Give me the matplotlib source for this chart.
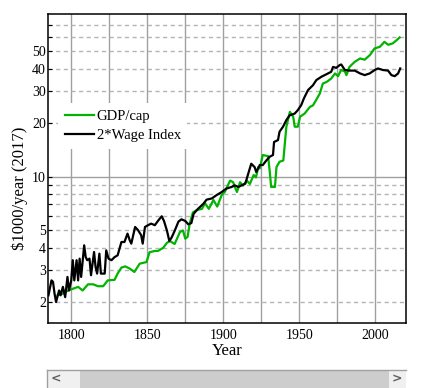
import matplotlib
matplotlib.use("Agg")
import matplotlib.pyplot as plt
from matplotlib.patches import Rectangle
from matplotlib.lines import Line2D
from matplotlib.ticker import FixedLocator, FixedFormatter, NullFormatter

W, H = 426, 388

# GDP per capita, $1000/year (2017)
gdp_years = [1791, 1794.5, 1798, 1801, 1804.5, 1807.5, 1811, 1814.5, 1817.5, 1821,
             1824, 1828.5, 1830.5, 1833, 1835.5, 1838.5, 1841.5, 1845, 1849.5, 1851.5,
             1855, 1857, 1860.5, 1863, 1865, 1868, 1871.5, 1873.5, 1875, 1876.5, 1878,
             1880, 1882.5, 1886, 1888, 1890.5, 1893.5, 1896, 1899, 1901, 1904.5, 1906.5,
             1907.5, 1909, 1911, 1913, 1915.5, 1917.5, 1920, 1921.5, 1923, 1924, 1926,
             1929.5, 1930.5, 1931.5, 1934, 1935, 1937, 1939.5, 1940.5, 1941.5, 1943.8,
             1946, 1947, 1949, 1950.5, 1953.5, 1957, 1959, 1961, 1963.5, 1965.5, 1968,
             1971, 1973.5, 1975.5, 1977.5, 1980, 1981, 1983, 1986.5, 1990, 1993, 1996.5,
             1999.5, 2003, 2006, 2008.5, 2011.5, 2014, 2016]
gdp_vals = [2.17, 2.22, 2.31, 2.36, 2.42, 2.31, 2.50, 2.50, 2.44, 2.44,
            2.63, 2.65, 2.87, 3.10, 3.15, 3.06, 2.93, 3.26, 3.33, 3.78,
            3.84, 3.84, 4.0, 4.27, 4.36, 4.2, 4.9, 5.0, 4.5, 4.6, 5.5,
            6.3, 6.5, 6.6, 7.1, 6.6, 7.4, 6.8, 7.9, 8.2, 9.5, 9.3,
            8.8, 8.2, 9.3, 8.9, 9.5, 9.1, 10.2, 9.9, 11.3, 11.1, 13.2,
            13.0, 10.8, 8.75, 8.75, 11.3, 12.1, 12.3, 15.3, 19.0, 23.0,
            21.6, 19.0, 19.0, 21.6, 22.5, 24.5, 25.0, 26.7, 29.1, 33.1, 33.8,
            35.3, 37.7, 36.4, 39.4, 38.7, 36.9, 41.0, 43.8, 45.7, 45.0, 47.8,
            52.0, 53.1, 56.6, 54.5, 55.5, 57.8, 59.9]

# 2 x wage index, $1000/year (2017)
wage_years = [1785, 1787, 1788, 1789, 1790, 1792, 1793, 1794.5, 1796, 1797.5,
              1798.5, 1800, 1801, 1802, 1803.5, 1804.5, 1805.5, 1806.5, 1808.5, 1809.5,
              1810.5, 1812, 1813, 1815, 1816, 1817, 1818.5, 1819.5, 1822, 1823,
              1824.5, 1826.5, 1828.5, 1830.5, 1833, 1835, 1837, 1838.5, 1839.5, 1842,
              1844, 1846, 1847, 1848.5, 1850.5, 1852.5, 1855, 1857, 1859.5, 1861,
              1863, 1864.5, 1866, 1868, 1870.5, 1872.5, 1875, 1877, 1879, 1880.5,
              1883.5, 1887, 1889, 1892.5, 1895.5, 1899, 1902, 1905.5, 1907.5, 1910,
              1912, 1914.5, 1916.3, 1918.4, 1920.6, 1921.7, 1924, 1926, 1928.3, 1930.5,
              1932.7, 1933.4, 1936, 1937, 1939.3, 1941.5, 1943.7, 1947, 1949, 1951.3,
              1953, 1955.7, 1959, 1961.2, 1964.5, 1967.8, 1971, 1972.2, 1974.3, 1976.6,
              1977.6, 1980, 1983, 1986.5, 1990, 1993, 1996.3, 1999.6, 2001.8, 2005,
              2008.4, 2010.6, 2012.8, 2015, 2016.4]
wage_vals = [2.17, 2.63, 2.58, 2.22, 1.99, 2.31, 2.17, 2.42, 2.12, 2.75,
             2.31, 2.63, 3.41, 2.63, 3.41, 2.63, 3.48, 2.75, 4.13, 3.55,
             3.41, 3.48, 2.81, 3.79, 3.12, 2.87, 3.71, 2.87, 2.87, 3.87,
             3.48, 3.41, 3.55, 3.63, 4.31, 4.31, 4.80, 4.40, 4.22, 5.23,
             5.01, 4.70, 4.22, 5.23, 5.35, 5.46, 5.35, 5.65, 6.0, 5.65,
             4.97, 4.37, 4.56, 4.97, 5.6, 5.77, 5.65, 5.41, 5.5, 6.2,
             6.62, 7.06, 7.43, 7.55, 7.87, 8.2, 8.57, 8.75, 8.93, 8.75,
             8.93, 9.13, 10.3, 11.8, 11.3, 10.6, 11.6, 11.6, 12.3, 12.9,
             13.2, 15.6, 16.0, 17.8, 19.0, 20.7, 22.0, 22.5, 23.5, 25.1,
             27.3, 30.4, 32.4, 34.6, 36.1, 37.3, 38.5, 41.0, 40.5, 42.0,
             42.3, 39.4, 39.1, 39.1, 37.7, 36.9, 37.7, 39.4, 40.2, 39.4,
             39.1, 36.9, 36.4, 37.7, 40.2]

series_labels = ["GDP/cap", "2*Wage Index"]
y_major = [10]
y_minor = [2, 3, 4, 5, 6, 7, 8, 9, 20, 30, 40, 50, 60, 70]
y_minor_labels = ["2", "3", "4", "5", "", "", "", "", "20", "30", "40", "50", "", ""]
x_major = [1800, 1850, 1900, 1950, 2000]
x_minor = [1825, 1875, 1925, 1975]

GREEN = "#00b400"


def fx(px):
    return px / W


def fy(py):
    return 1 - py / H


def main():
    plt.rcParams["font.family"] = ["Liberation Serif", "DejaVu Serif"]
    fig = plt.figure(figsize=(W / 100, H / 100), dpi=100)
    ax = fig.add_axes([fx(48), fy(323), (406 - 48) / W, (323 - 14) / H])

    ax.set_yscale("log")
    ax.set_xlim(1784.7, 2020.2)
    ax.set_ylim(1.52, 81)

    ax.plot(gdp_years, gdp_vals, color=GREEN, linewidth=1.6, label=series_labels[0], zorder=3)
    ax.plot(wage_years, wage_vals, color="black", linewidth=1.6, label=series_labels[1], zorder=3)

    ax.yaxis.set_major_locator(FixedLocator(y_major))
    ax.yaxis.set_major_formatter(FixedFormatter(["10"]))
    ax.yaxis.set_minor_locator(FixedLocator(y_minor))
    ax.yaxis.set_minor_formatter(FixedFormatter(y_minor_labels))
    ax.xaxis.set_major_locator(FixedLocator(x_major))
    ax.xaxis.set_minor_locator(FixedLocator(x_minor))
    ax.xaxis.set_minor_formatter(NullFormatter())

    ax.grid(True, axis="x", which="both", color="#a0a0a0", linewidth=1.0)
    ax.grid(True, axis="y", which="major", color="#a0a0a0", linewidth=1.0)
    ax.grid(True, axis="y", which="minor", color="#b4b4b4", linewidth=1.0, linestyle=(0, (3, 2.5)))
    ax.set_axisbelow(True)

    ax.tick_params(axis="x", which="both", length=0, pad=4, labelsize=10)
    ax.tick_params(axis="y", which="both", direction="in", length=3, width=0.8,
                   pad=1.5, labelsize=10)
    for s in ax.spines.values():
        s.set_linewidth(1.1)

    leg = ax.legend(loc="upper left", bbox_to_anchor=((58 - 48) / 358, 1 - (103 - 14) / 309),
                    fontsize=10.5, frameon=True, fancybox=False, framealpha=1,
                    edgecolor="white", borderpad=0.45, labelspacing=0.42,
                    handlelength=2.0, handletextpad=0.2, borderaxespad=0)
    leg.get_frame().set_linewidth(0)

    fig.text(fx(20), fy(188), "\\$1000/year (2017)", rotation=90, ha="center", va="center",
             fontsize=12)
    fig.text(fx(227), fy(351), "Year", ha="center", va="center", fontsize=12)

    # scroll bar strip under the chart
    fig.add_artist(Rectangle((fx(47), fy(388)), (406 - 47) / W, 18 / H, transform=fig.transFigure,
                             facecolor="#f0f0f0", edgecolor="none"))
    fig.add_artist(Rectangle((fx(80), fy(388)), (389 - 80) / W, 17 / H, transform=fig.transFigure,
                             facecolor="#cdcdcd", edgecolor="none"))
    fig.add_artist(Line2D([fx(47), fx(406)], [fy(370), fy(370)], transform=fig.transFigure,
                          color="#a0a0a0", linewidth=1.0))
    fig.add_artist(Line2D([fx(47), fx(47)], [fy(370), fy(388)], transform=fig.transFigure,
                          color="#a0a0a0", linewidth=1.0))
    fig.text(fx(56), fy(379), "<", ha="center", va="center", fontsize=9, color="#606060",
             family="DejaVu Sans", weight="bold")
    fig.text(fx(397), fy(379), ">", ha="center", va="center", fontsize=9, color="#606060",
             family="DejaVu Sans", weight="bold")

    fig.savefig("out.png", dpi=100)
    plt.close(fig)


if __name__ == "__main__":
    main()
